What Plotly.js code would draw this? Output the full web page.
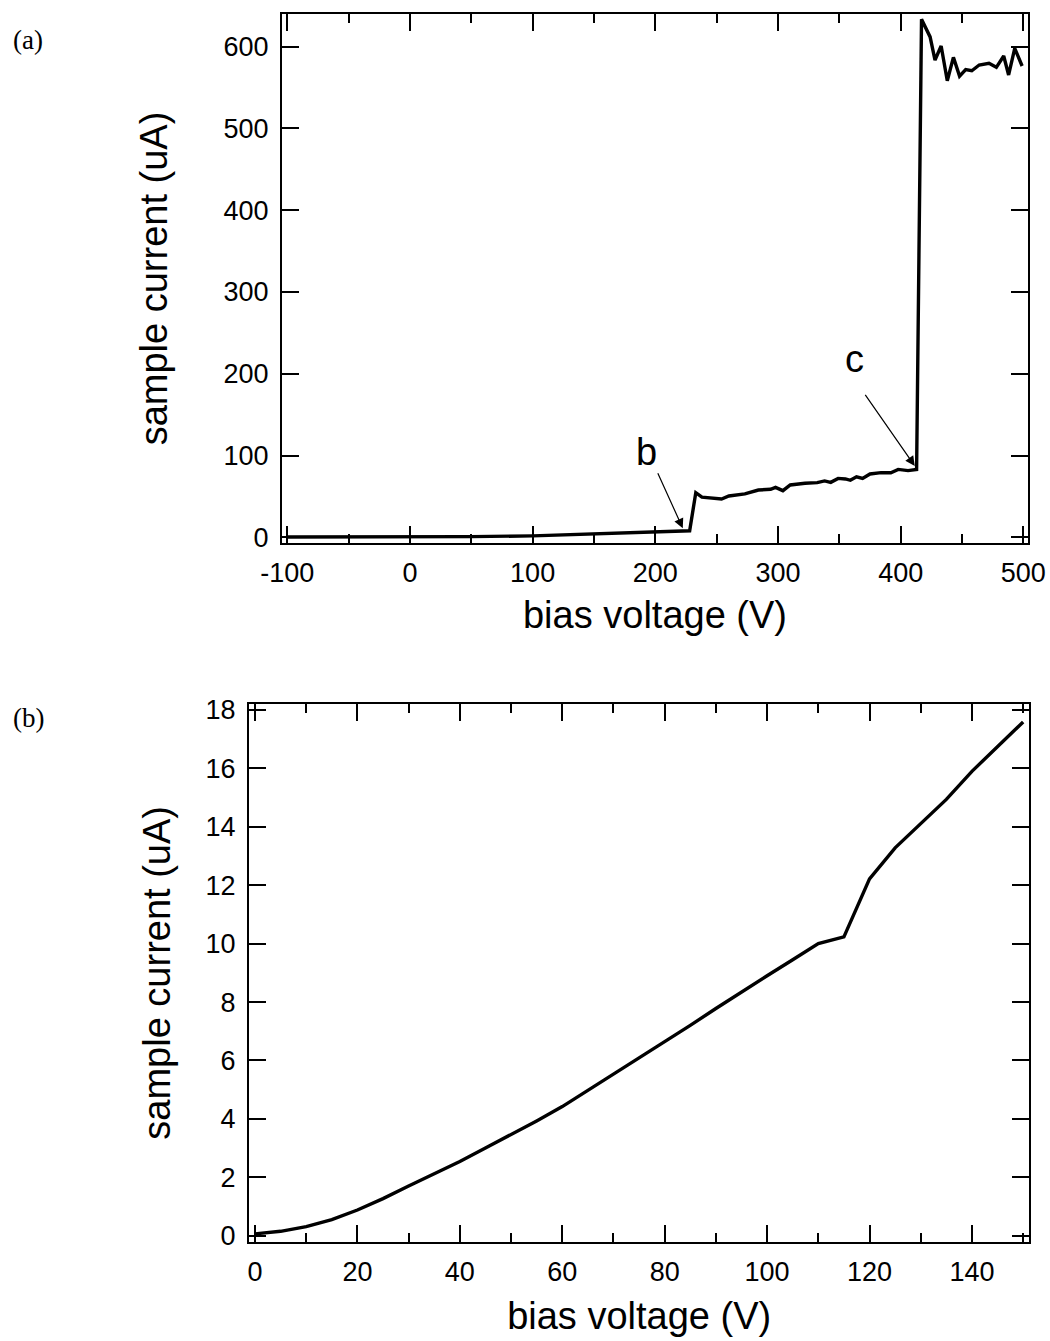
<!DOCTYPE html>
<html>
<head>
<meta charset="utf-8">
<script src="https://cdn.plot.ly/plotly-3.0.1.min.js"></script>
<style>
  html, body { margin: 0; padding: 0; background: #fff; }
  #chart { width: 1050px; height: 1341px; }
</style>
</head>
<body>
<div id="chart"></div>
<script>
// ---- Panel (a): full sweep ----
const voltageA = [-100, -50, 0, 50, 100, 150, 200, 228, 233, 238, 254, 260, 273, 284, 294, 298, 304, 310, 322, 332, 338, 343, 349, 355, 359, 364, 369, 375, 384, 392, 398, 406, 413, 417, 424, 428, 433, 438, 443, 448, 453, 458, 464, 472, 478, 484, 488, 493, 499];
const currentA = [0.3, 0.3, 0.4, 0.8, 1.7, 3.8, 6.3, 8, 54.5, 49, 46.8, 50.5, 53, 57.8, 58.7, 61, 57, 64, 66, 66.8, 68.9, 67.2, 72, 71.3, 69.7, 74, 72, 77.4, 79, 79, 83, 81.5, 83, 633.5, 612, 583.7, 600.8, 558.4, 587, 564, 572, 570.6, 577.6, 579.7, 574.8, 588.6, 565.4, 598, 576.4];

// ---- Panel (b): low-voltage detail ----
const voltageB = [0, 5, 10, 15, 20, 25, 30, 35, 40, 45, 50, 55, 60, 65, 70, 75, 80, 85, 90, 95, 100, 105, 110, 115, 120, 125, 130, 135, 140, 145, 150];
const currentB = [0.06, 0.15, 0.31, 0.55, 0.88, 1.27, 1.70, 2.12, 2.54, 3.0, 3.45, 3.93, 4.42, 4.97, 5.53, 6.08, 6.64, 7.2, 7.78, 8.35, 8.9, 9.45, 10.0, 10.23, 12.22, 13.28, 14.1, 14.94, 15.9, 16.75, 17.59];

// ---- Tick labels ----
const xTicksA = [-100, 0, 100, 200, 300, 400, 500];
const xTickTextA = ['-100', '0', '100', '200', '300', '400', '500'];
const xMinorA = [-50, 50, 150, 250, 350, 450];
const yTicksA = [0, 100, 200, 300, 400, 500, 600];
const xTicksB = [0, 20, 40, 60, 80, 100, 120, 140];
const xMinorB = [10, 30, 50, 70, 90, 110, 130, 150];
const yTicksB = [0, 2, 4, 6, 8, 10, 12, 14, 16, 18];

const W = 1050, H = 1341;
const FONT = 'Liberation Sans, Arial, Helvetica, sans-serif';
const SERIF = 'Liberation Serif, Times New Roman, serif';

function axisBase(extra) {
  return Object.assign({
    showline: true, linecolor: '#000', linewidth: 2, mirror: 'ticks',
    ticks: 'inside', ticklen: 17, tickwidth: 2, tickcolor: '#000',
    showgrid: false, zeroline: false, tickmode: 'array',
    tickfont: {family: FONT, size: 27, color: '#000'},
    fixedrange: true
  }, extra);
}

const traces = [
  {x: voltageA, y: currentA, type: 'scatter', mode: 'lines',
   line: {color: '#000', width: 3.4}, xaxis: 'x', yaxis: 'y', hoverinfo: 'skip'},
  {x: voltageB, y: currentB, type: 'scatter', mode: 'lines',
   line: {color: '#000', width: 3.4}, xaxis: 'x2', yaxis: 'y2', hoverinfo: 'skip'}
];

const layout = {
  width: W, height: H,
  margin: {l: 0, r: 0, t: 0, b: 0},
  paper_bgcolor: '#fff', plot_bgcolor: '#fff',
  showlegend: false,
  font: {family: FONT, color: '#000'},
  xaxis: axisBase({
    domain: [282 / W, 1028 / W], anchor: 'y',
    range: [-104.3, 503.8],
    tickvals: xTicksA, ticktext: xTickTextA, ticklabelstandoff: 5,
    minor: {tickmode: 'array', tickvals: xMinorA, ticks: 'inside', ticklen: 9, tickwidth: 2, tickcolor: '#000'},
    title: {text: 'bias voltage (V)', font: {family: FONT, size: 38, color: '#000'}, standoff: 14}
  }),
  yaxis: axisBase({
    domain: [1 - 543 / H, 1 - 14 / H], anchor: 'x',
    range: [-7, 640],
    tickvals: yTicksA, ticklabelstandoff: 6,
    title: {text: 'sample current (uA)', font: {family: FONT, size: 38, color: '#000'}, standoff: 44}
  }),
  xaxis2: axisBase({
    domain: [249 / W, 1029.3 / W], anchor: 'y2',
    range: [-1.17, 151.2],
    tickvals: xTicksB, ticklabelstandoff: 5,
    minor: {tickmode: 'array', tickvals: xMinorB, ticks: 'inside', ticklen: 9, tickwidth: 2, tickcolor: '#000'},
    title: {text: 'bias voltage (V)', font: {family: FONT, size: 38, color: '#000'}, standoff: 16}
  }),
  yaxis2: axisBase({
    domain: [1 - 1241.7 / H, 1 - 704 / H], anchor: 'x2',
    range: [-0.206, 18.206],
    tickvals: yTicksB, ticklabelstandoff: 6,
    title: {text: 'sample current (uA)', font: {family: FONT, size: 38, color: '#000'}, standoff: 23}
  }),
  annotations: [
    {text: 'b', x: 193.2, y: 104.3, xref: 'x', yref: 'y', showarrow: false,
     font: {family: FONT, size: 38, color: '#000'}},
    {text: '', x: 222.4, y: 11, xref: 'x', yref: 'y', ax: 201.5, ay: 80.2, axref: 'x', ayref: 'y',
     showarrow: true, arrowhead: 2, arrowsize: 1.6, arrowwidth: 1.2, arrowcolor: '#000'},
    {text: 'c', x: 362.1, y: 217.7, xref: 'x', yref: 'y', showarrow: false,
     font: {family: FONT, size: 38, color: '#000'}},
    {text: '', x: 411.5, y: 87.2, xref: 'x', yref: 'y', ax: 370.3, ay: 176, axref: 'x', ayref: 'y',
     showarrow: true, arrowhead: 2, arrowsize: 1.6, arrowwidth: 1.2, arrowcolor: '#000'},
    {text: '(a)', x: 28 / W, y: 1 - 40 / H, xref: 'paper', yref: 'paper', showarrow: false,
     xanchor: 'center', yanchor: 'middle',
     font: {family: SERIF, size: 27, color: '#000'}},
    {text: '(b)', x: 28 / W, y: 1 - 718 / H, xref: 'paper', yref: 'paper', showarrow: false,
     xanchor: 'center', yanchor: 'middle',
     font: {family: SERIF, size: 27, color: '#000'}}
  ]
};

Plotly.newPlot('chart', traces, layout, {staticPlot: true, displayModeBar: false});
</script>
</body>
</html>
